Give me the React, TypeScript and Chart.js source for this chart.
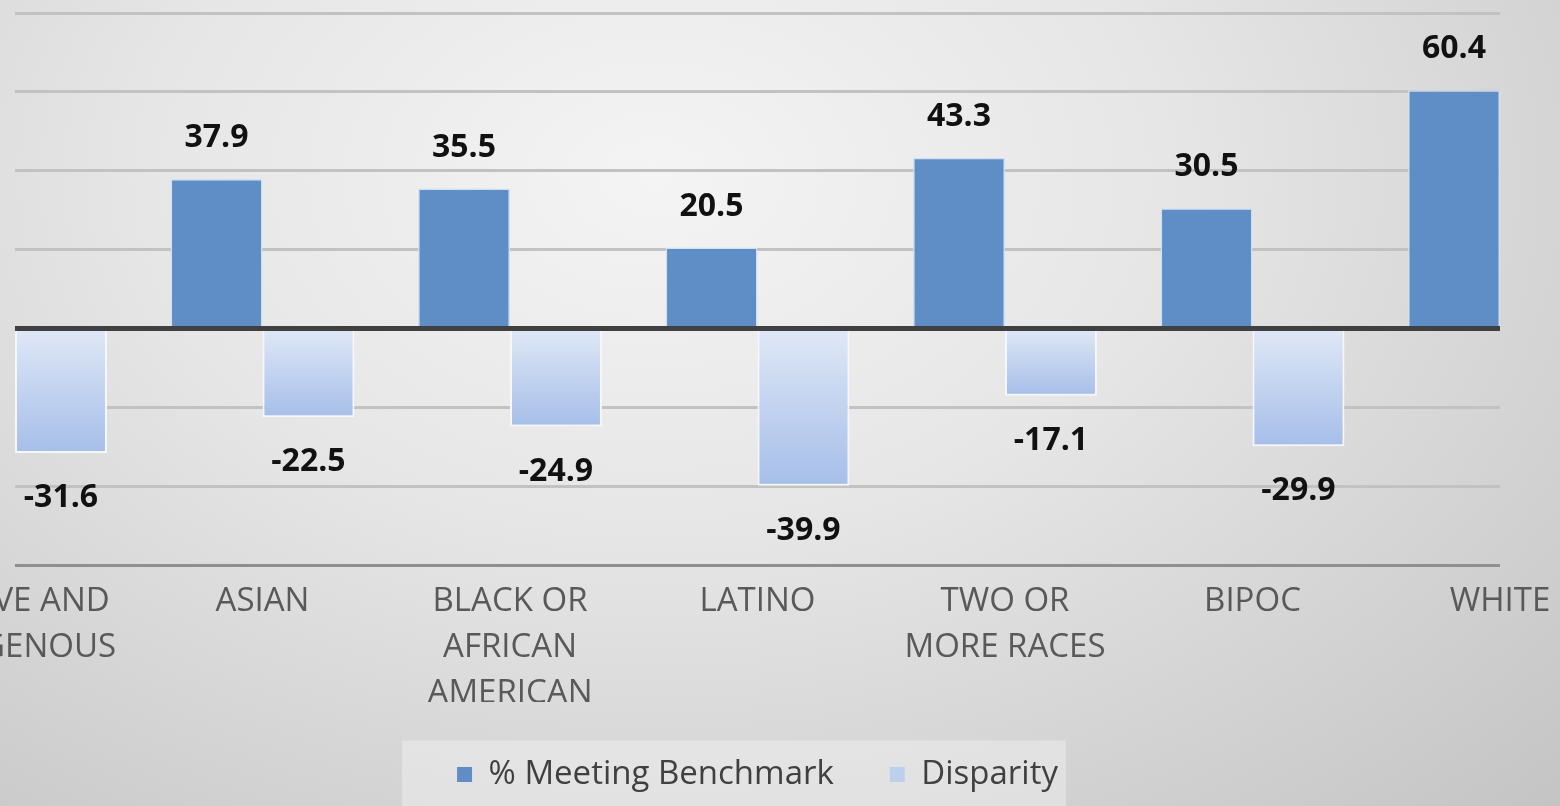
import React, { useEffect, useRef } from "react";
import { Chart, registerables } from "chart.js";

Chart.register(...registerables);

// ---- data ----
const categories: (string | string[])[] = [
  ["NATIVE AND", "INDIGENOUS"],
  "ASIAN",
  ["BLACK OR", "AFRICAN", "AMERICAN"],
  "LATINO",
  ["TWO OR", "MORE RACES"],
  "BIPOC",
  "WHITE",
];
const meetingBenchmark = [28.8, 37.9, 35.5, 20.5, 43.3, 30.5, 60.4];
const disparity = [-31.6, -22.5, -24.9, -39.9, -17.1, -29.9, 0];
const seriesNames = ["% Meeting Benchmark", "Disparity"];
const yMin = -60;
const yMax = 80;
const yStep = 20;

const FONT = "'Open Sans', 'Liberation Sans', sans-serif";
const BLUE = "#5f8ec6";
const LIGHT = "#bcd0ee";

export default function App() {
  const ref = useRef<HTMLCanvasElement>(null);

  useEffect(() => {
    const canvas = ref.current!;

    const legendBg = {
      id: "legendBg",
      beforeDraw(chart: any) {
        const lg = chart.legend;
        if (!lg || !lg.legendHitBoxes || !lg.legendHitBoxes.length) return;
        const hb = lg.legendHitBoxes;
        const first = hb[0];
        const last = hb[hb.length - 1];
        const cy = first.top + first.height / 2;
        const ctx = chart.ctx;
        ctx.save();
        ctx.fillStyle = "rgba(255,255,255,0.32)";
        const left = first.left - 55;
        const right = last.left + last.width + 8;
        ctx.fillRect(left, cy - 34, right - left, chart.height - (cy - 34));
        ctx.restore();
      },
    };

    const zeroAndLabels = {
      id: "zeroAndLabels",
      afterDatasetsDraw(chart: any) {
        const { ctx, chartArea } = chart;
        const ys = chart.scales.y;
        const y0 = ys.getPixelForValue(0);
        ctx.save();
        ctx.strokeStyle = "#404040";
        ctx.lineWidth = 5;
        ctx.beginPath();
        ctx.moveTo(chartArea.left, y0);
        ctx.lineTo(chartArea.right, y0);
        ctx.stroke();

        ctx.font = `bold 32px ${FONT}`;
        ctx.fillStyle = "#111111";
        ctx.textAlign = "center";
        ctx.textBaseline = "middle";
        chart.data.datasets.forEach((ds: any, di: number) => {
          const meta = chart.getDatasetMeta(di);
          meta.data.forEach((el: any, i: number) => {
            const v = ds.data[i];
            if (el.x < chartArea.left || el.x > chartArea.right) return;
            const y = v >= 0 ? el.y - 41 : el.y + 45;
            ctx.fillText(v.toFixed(1), el.x, y);
          });
        });
        ctx.restore();
      },
    };

    const chart = new Chart(canvas, {
      type: "bar",
      data: {
        labels: categories,
        datasets: [
          {
            label: seriesNames[0],
            data: meetingBenchmark,
            backgroundColor: BLUE,
            borderColor: "#cfe0f3",
            borderWidth: 1.5,
            categoryPercentage: 0.743,
            barPercentage: 1,
            clip: 0,
          },
          {
            label: seriesNames[1],
            data: disparity,
            backgroundColor: (c: any) => {
              if (c.type !== "data") return LIGHT;
              const chart = c.chart;
              const ys = chart.scales && chart.scales.y;
              if (!ys || !chart.chartArea) return LIGHT;
              const y0 = ys.getPixelForValue(0);
              const y1 = ys.getPixelForValue(c.raw);
              if (!isFinite(y0) || !isFinite(y1) || Math.abs(y1 - y0) < 1) return "#dde6f5";
              const g = chart.ctx.createLinearGradient(0, y0, 0, y1);
              g.addColorStop(0, "#dfe8f6");
              g.addColorStop(1, "#a6bee9");
              return g;
            },
            borderColor: "#f4f7fc",
            borderWidth: 2,
            categoryPercentage: 0.743,
            barPercentage: 1,
            clip: 0,
          },
        ],
      },
      options: {
        responsive: false,
        animation: false,
        devicePixelRatio: 1,
        layout: { padding: { left: 15, right: 60, top: 13, bottom: 5 } },
        scales: {
          x: {
            type: "category",
            offset: false,
            grid: { display: false, drawTicks: false },
            border: { display: false },
            ticks: {
              autoSkip: false,
              maxRotation: 0,
              minRotation: 0,
              padding: 14,
              color: "#595959",
              font: { family: FONT, size: 33, lineHeight: 46 / 33 },
            },
            afterFit: (s: any) => {
              s.height = 137;
              s.paddingLeft = 0;
              s.paddingRight = 0;
            },
          },
          y: {
            min: yMin,
            max: yMax,
            ticks: { display: false, stepSize: yStep },
            border: { display: false },
            grid: {
              drawTicks: false,
              color: (c: any) => {
                const v = c.tick && c.tick.value;
                if (v === 0) return "rgba(0,0,0,0)";
                if (v === yMin) return "#8f8f8f";
                return "#c2c2c2";
              },
              lineWidth: 3,
            },
            afterFit: (s: any) => {
              s.width = 0;
            },
          },
        },
        plugins: {
          tooltip: { enabled: false },
          legend: {
            position: "bottom",
            align: "center",
            labels: {
              boxWidth: 15,
              boxHeight: 15,
              padding: 56,
              color: "#404040",
              font: { family: FONT, size: 33 },
              generateLabels: (ch: any) =>
                (Chart.defaults.plugins.legend.labels as any)
                  .generateLabels(ch)
                  .map((it: any, i: number) => ({
                    ...it,
                    lineWidth: 0,
                    strokeStyle: "rgba(0,0,0,0)",
                    fillStyle: i === 0 ? BLUE : LIGHT,
                    fontColor: "#404040",
                  })),
            },
          },
        },
      },
      plugins: [legendBg, zeroAndLabels],
    } as any);

    return () => chart.destroy();
  }, []);

  return (
    <div
      style={{
        position: "fixed",
        left: 0,
        top: 0,
        width: 1560,
        height: 806,
        overflow: "hidden",
        background:
          "radial-gradient(ellipse farthest-corner at 42% 22%, #f4f4f4 0%, #e6e6e6 40%, #c4c4c4 100%)",
      }}
    >
      <canvas
        ref={ref}
        width={1560}
        height={806}
        style={{ position: "absolute", left: 0, top: 0 }}
      />
    </div>
  );
}
